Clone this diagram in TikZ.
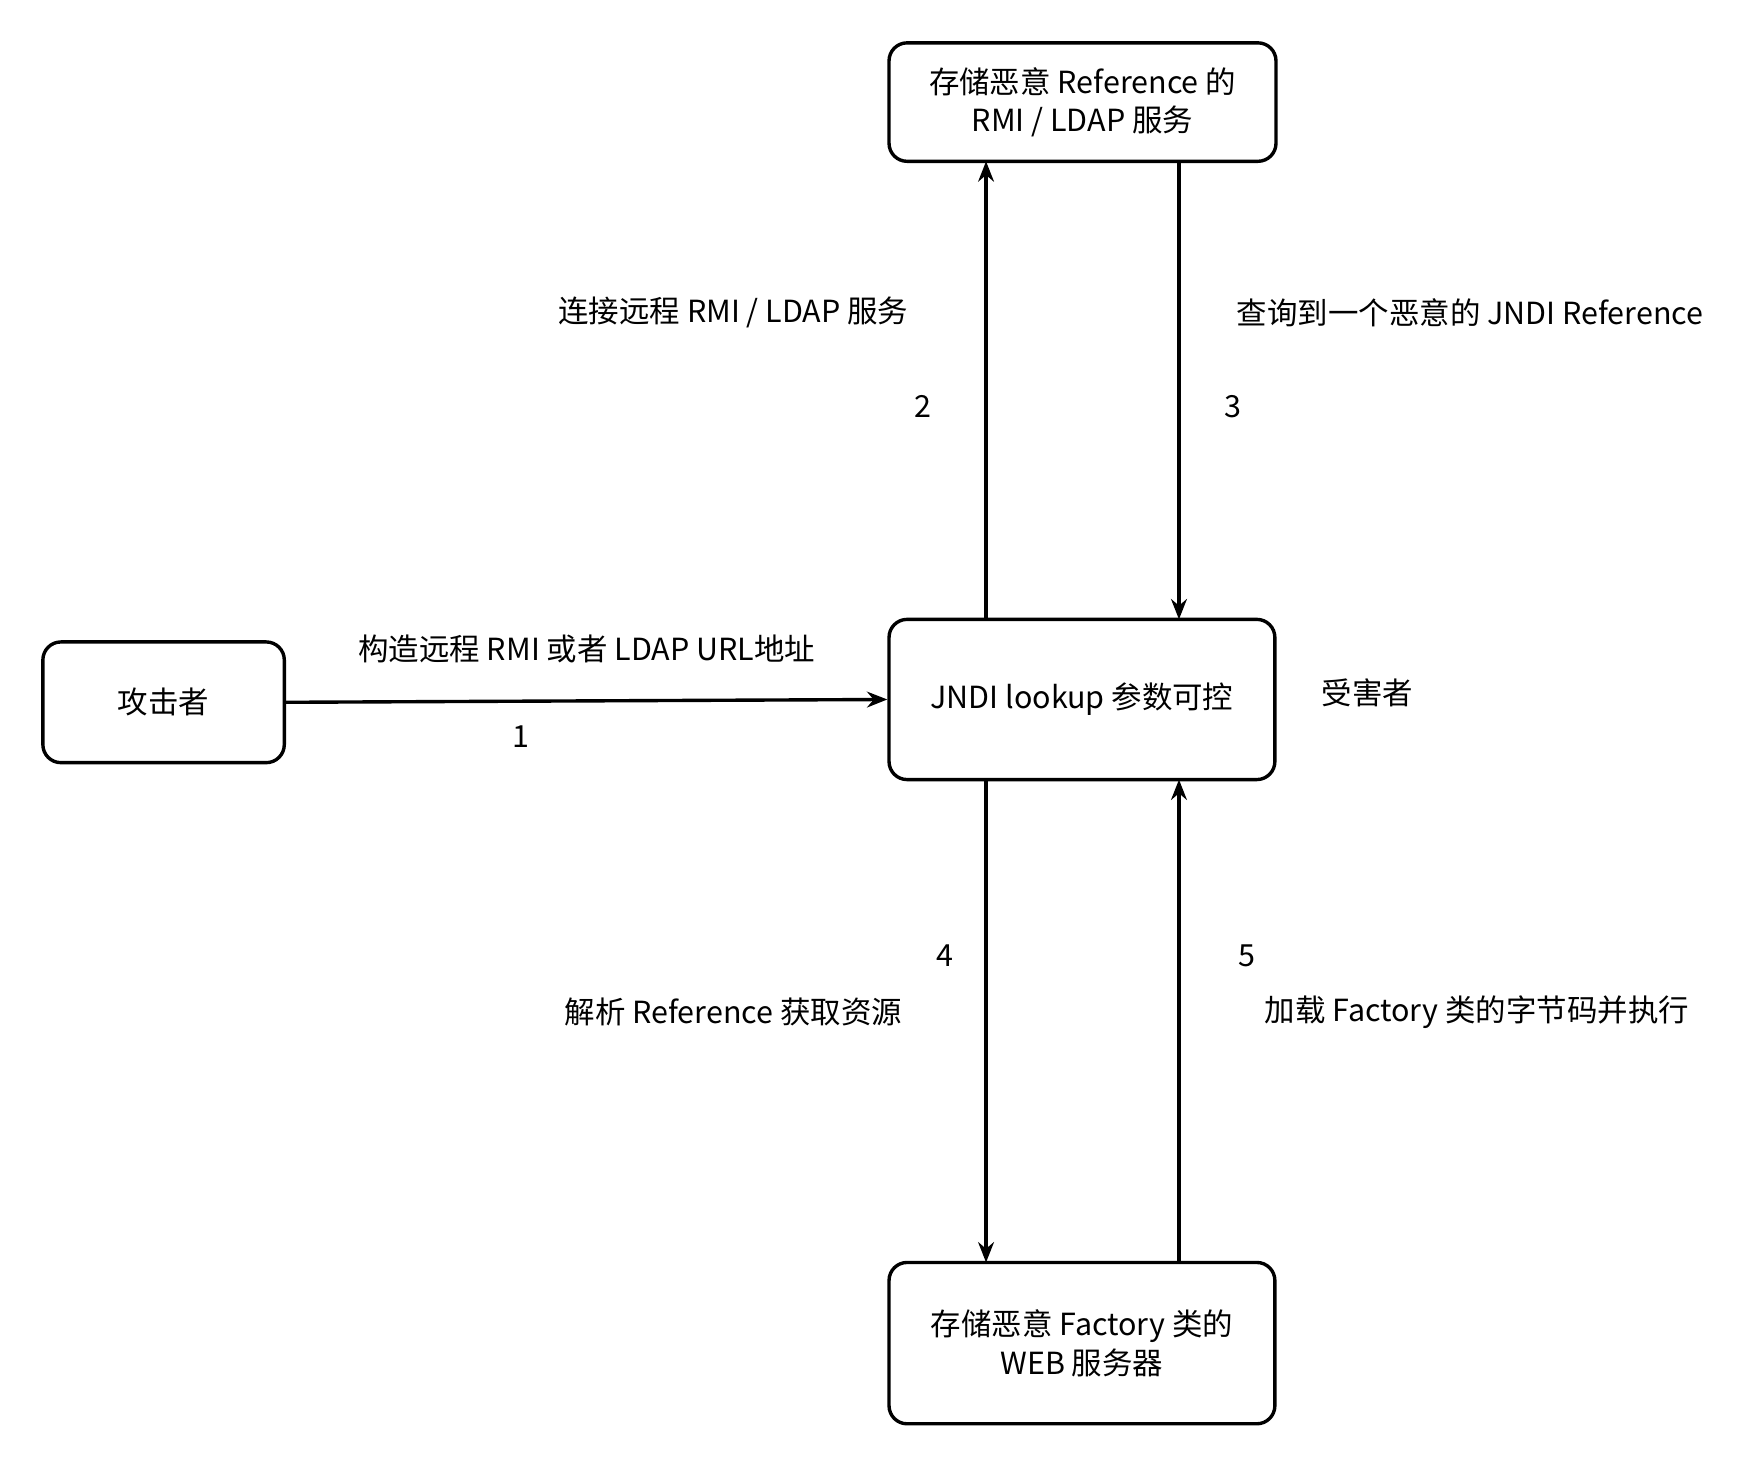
\documentclass[tikz,border=0pt]{standalone}
\usepackage{fontspec}
\setmainfont{Noto Sans CJK SC}
\usetikzlibrary{arrows.meta}
\begin{document}
\begin{tikzpicture}[x=0.5pt,y=-0.5pt,
  box/.style={draw,line width=1.5pt,rounded corners=8pt,align=center,font=\fontsize{13.5}{17}\selectfont},
  lbl/.style={font=\fontsize{13.5}{17}\selectfont},
  arr/.style={line width=1.5pt,-{Stealth[length=9pt,width=7pt]}}]
\useasboundingbox (0,0) rectangle (1560,1293);
\node[box,minimum width=343pt*0.5,minimum height=105pt*0.5] (top) at (959.5,90.5) {存储恶意 Reference 的\\RMI / LDAP 服务};
\node[box,minimum width=342pt*0.5,minimum height=142pt*0.5] (jndi) at (959,620) {JNDI lookup 参数可控};
\node[box,minimum width=214pt*0.5,minimum height=107pt*0.5] (att) at (145,622.5) {攻击者};
\node[box,minimum width=342pt*0.5,minimum height=143pt*0.5] (web) at (959,1190.5) {存储恶意 Factory 类的\\WEB 服务器};
\coordinate (a) at (874,549); \coordinate (b) at (874,143);
\coordinate (c) at (1045,143); \coordinate (d) at (1045,549);
\coordinate (e) at (874,691); \coordinate (f) at (874,1119);
\coordinate (g) at (1045,1119); \coordinate (h) at (1045,691);
\draw[arr] (a) -- (b);
\draw[arr] (c) -- (d);
\draw[arr] (e) -- (f);
\draw[arr] (g) -- (h);
\draw[arr] (att.east) -- (jndi.west);
\node[lbl] (l2) at (650,277) {连接远程 RMI / LDAP 服务};
\node[lbl] (n2) at (818,360) {2};
\node[lbl] (l3) at (1303,277) {查询到一个恶意的 JNDI Reference};
\node[lbl] (n3) at (1093,360) {3};
\node[lbl] (l1) at (520,575) {构造远程 RMI 或者 LDAP URL地址};
\node[lbl] (n1) at (462,653) {1};
\node[lbl] (v) at (1212,614) {受害者};
\node[lbl] (n4) at (838,847) {4};
\node[lbl] (l4) at (650,897) {解析 Reference 获取资源};
\node[lbl] (n5) at (1105,847) {5};
\node[lbl] (l5) at (1309,897) {加载 Factory 类的字节码并执行};
\end{tikzpicture}
\end{document}
